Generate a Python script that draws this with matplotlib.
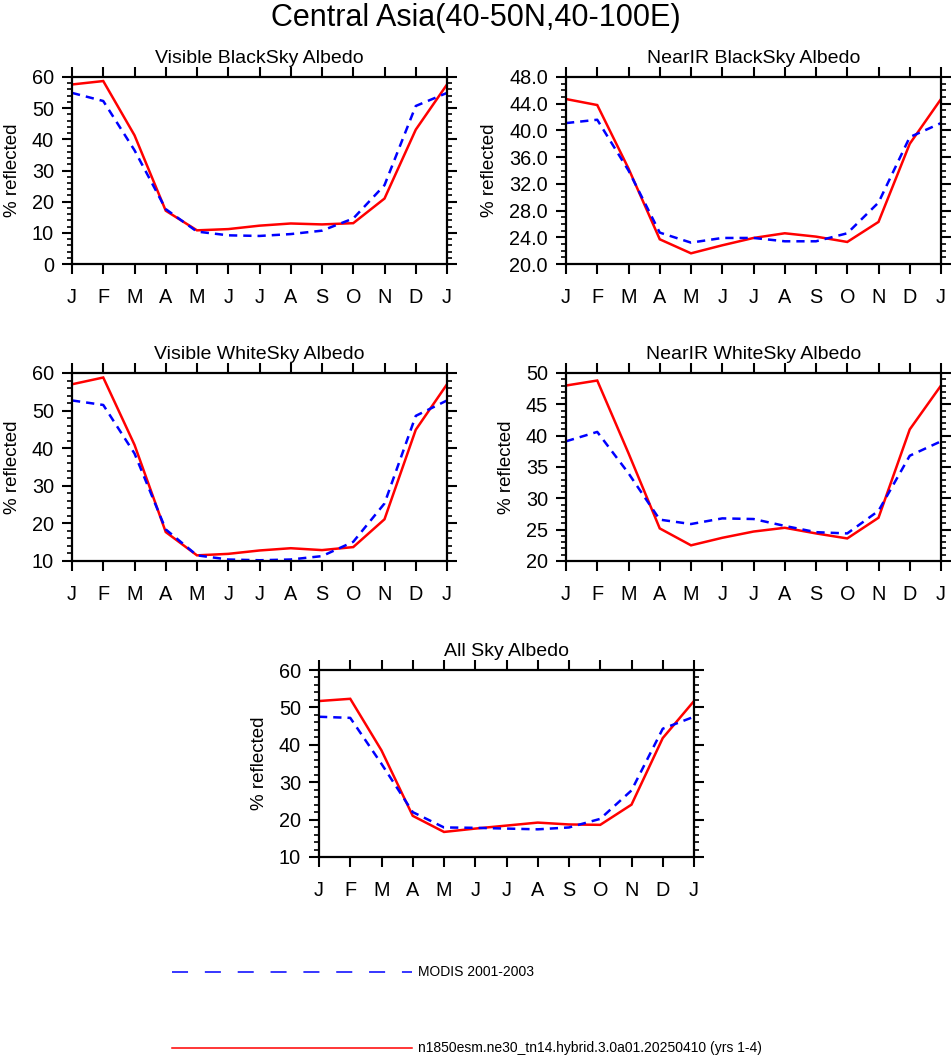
import matplotlib
matplotlib.use("Agg")
import matplotlib.pyplot as plt
import numpy as np
from matplotlib.ticker import MultipleLocator, FormatStrFormatter

plt.rcParams['font.family'] = ['Liberation Sans', 'DejaVu Sans']

months = ['J', 'F', 'M', 'A', 'M', 'J', 'J', 'A', 'S', 'O', 'N', 'D', 'J']

# model (red, solid) and MODIS (blue, dashed), Jan..Dec + Jan
vis_bs_model = [57.6, 58.7, 41.3, 17.1, 10.8, 11.2, 12.3, 13.0, 12.7, 13.1, 21.0, 43.1, 57.6]
vis_bs_modis = [54.9, 52.3, 36.5, 17.6, 10.4, 9.2, 9.0, 9.6, 10.7, 14.6, 25.3, 50.7, 54.9]

nir_bs_model = [44.7, 43.8, 34.3, 23.7, 21.6, 22.8, 23.9, 24.6, 24.1, 23.3, 26.3, 38.0, 44.7]
nir_bs_modis = [41.1, 41.6, 34.0, 24.7, 23.2, 23.9, 23.9, 23.4, 23.4, 24.6, 29.2, 39.0, 41.1]

vis_ws_model = [57.0, 58.8, 40.9, 17.7, 11.5, 11.9, 12.8, 13.4, 12.9, 13.7, 21.1, 44.9, 57.0]
vis_ws_modis = [52.7, 51.5, 38.6, 18.4, 11.5, 10.4, 10.2, 10.4, 11.3, 15.1, 25.3, 48.6, 52.7]

nir_ws_model = [48.0, 48.8, 37.2, 25.2, 22.5, 23.7, 24.7, 25.3, 24.4, 23.6, 26.9, 41.0, 48.0]
nir_ws_modis = [39.1, 40.6, 34.0, 26.6, 25.9, 26.8, 26.7, 25.6, 24.6, 24.4, 28.0, 36.8, 39.1]

all_model = [51.7, 52.3, 38.5, 21.0, 16.7, 17.6, 18.4, 19.2, 18.7, 18.6, 24.0, 41.8, 51.7]
all_modis = [47.5, 47.2, 34.9, 22.0, 17.9, 17.8, 17.6, 17.4, 17.9, 20.2, 27.8, 44.3, 47.5]

modis_label = 'MODIS 2001-2003'
model_label = 'n1850esm.ne30_tn14.hybrid.3.0a01.20250410 (yrs 1-4)'

W, H = 952, 1056
fig = plt.figure(figsize=(W / 100, H / 100), dpi=100)

def px_axes(x0, y0, x1, y1):
    return fig.add_axes([x0 / W, 1 - y1 / H, (x1 - x0) / W, (y1 - y0) / H])

panels = [
    # title, model, modis, ylim, major, minor, fmt, box
    ('Visible BlackSky Albedo', vis_bs_model, vis_bs_modis, (0, 60), 10, 2, '%d', (72, 77, 447, 264)),
    ('NearIR BlackSky Albedo', nir_bs_model, nir_bs_modis, (20, 48), 4, 1, '%.1f', (566, 77, 941, 264)),
    ('Visible WhiteSky Albedo', vis_ws_model, vis_ws_modis, (10, 60), 10, 2, '%d', (72, 373, 447, 561)),
    ('NearIR WhiteSky Albedo', nir_ws_model, nir_ws_modis, (20, 50), 5, 1, '%d', (566, 373, 941, 561)),
    ('All Sky Albedo', all_model, all_modis, (10, 60), 10, 2, '%d', (319, 670, 694, 857)),
]

x = np.arange(len(months))
for title, model, modis, ylim, major, minor, fmt, box in panels:
    ax = px_axes(*box)
    ax.plot(x, model, color='red', lw=1.8, solid_joinstyle='miter')
    ax.plot(x, modis, color='blue', lw=1.8, dashes=(3.3, 2.4))
    ax.set_xlim(0, 12)
    ax.set_ylim(*ylim)
    ax.set_xticks(x)
    ax.set_xticklabels(months)
    ax.yaxis.set_major_locator(MultipleLocator(major))
    ax.yaxis.set_minor_locator(MultipleLocator(minor))
    ax.yaxis.set_major_formatter(FormatStrFormatter(fmt))
    ax.tick_params(axis='both', which='major', direction='out', length=7, width=1.5,
                   labelsize=14.3, top=True, right=True)
    ax.tick_params(axis='y', which='minor', direction='out', length=3.5, width=1.2,
                   left=True, right=True)
    ax.tick_params(axis='x', which='major', pad=10)
    ax.tick_params(axis='y', which='major', pad=6)
    for s in ax.spines.values():
        s.set_linewidth(1.6)
    ax.set_ylabel('% reflected', fontsize=13.5, labelpad=8)
    ax.set_title(title, fontsize=14, pad=10)

fig.text(0.5, 1 - 18 / H, 'Central Asia(40-50N,40-100E)', ha='center', va='center', fontsize=22)

# legend drawn in a figure-wide axes
lax = fig.add_axes([0, 0, 1, 1], facecolor='none')
lax.set_xlim(0, W)
lax.set_ylim(H, 0)
lax.axis('off')
lax.plot([172, 412], [972, 972], color='blue', lw=1.1, dashes=(10.5, 11))
lax.text(418, 972, modis_label, fontsize=10, va='center', ha='left')
lax.plot([172, 412], [1048, 1048], color='red', lw=1.1)
lax.text(418, 1048, model_label, fontsize=10, va='center', ha='left')

fig.savefig('out.png', dpi=100)
